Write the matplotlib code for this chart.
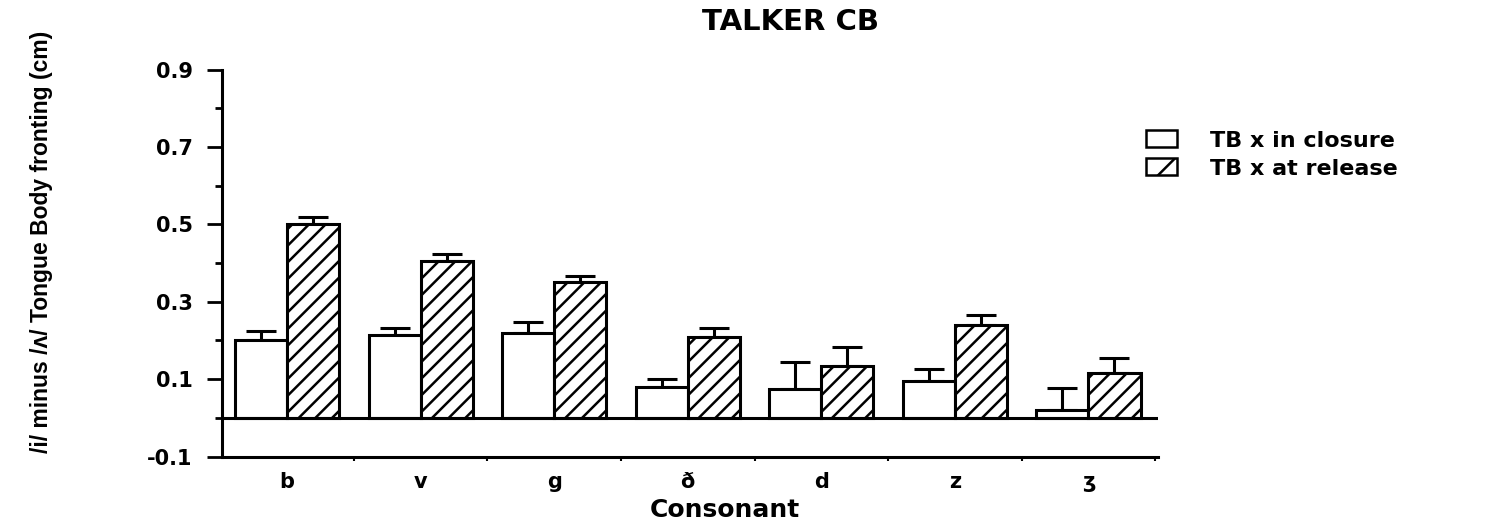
import matplotlib
matplotlib.use("Agg")
import matplotlib.pyplot as plt
import numpy as np
from matplotlib.patches import Patch
from matplotlib.ticker import FixedLocator, NullFormatter, FixedFormatter

# tongue body fronting, talker CB
consonants = ["b", "v", "g", "ð", "d", "z", "ʒ"]
closure = [0.20, 0.215, 0.22, 0.08, 0.075, 0.095, 0.02]
closure_err = [0.023, 0.016, 0.028, 0.019, 0.068, 0.031, 0.057]
release = [0.50, 0.405, 0.35, 0.21, 0.135, 0.24, 0.115]
release_err = [0.02, 0.017, 0.017, 0.022, 0.047, 0.026, 0.039]
series_names = ["TB x in closure", "TB x at release"]
yticks_major = [-0.1, 0.1, 0.3, 0.5, 0.7, 0.9]
yticks_minor = [0.0, 0.2, 0.4, 0.6, 0.8]

plt.rcParams["font.family"] = ["DejaVu Sans"]
plt.rcParams["font.weight"] = "bold"
plt.rcParams["hatch.linewidth"] = 1.8

fig = plt.figure(figsize=(14.95, 5.21), dpi=100)
ax = fig.add_axes([0.1485, 0.1238, 0.626, 0.7428])

x = np.arange(len(consonants))
w = 0.39
lw = 2.2

ax.bar(x - w / 2, closure, w, color="white", edgecolor="black", linewidth=lw, zorder=3)
ax.bar(x + w / 2, release, w, color="white", edgecolor="black", linewidth=lw,
       hatch="//", zorder=3)

zeros = np.zeros(len(x))
ax.errorbar(x - w / 2, closure, yerr=[zeros, closure_err], fmt="none", ecolor="black",
            elinewidth=lw, capsize=10.5, capthick=lw, zorder=2)
ax.errorbar(x + w / 2, release, yerr=[zeros, release_err], fmt="none", ecolor="black",
            elinewidth=lw, capsize=10.5, capthick=lw, zorder=2)

ax.axhline(0, color="black", linewidth=lw, zorder=4)

ax.set_xlim(-0.487, 6.52)
ax.set_ylim(-0.1, 0.9)

for side in ["top", "right"]:
    ax.spines[side].set_visible(False)
for side in ["left", "bottom"]:
    ax.spines[side].set_linewidth(lw)

ax.set_yticks(yticks_major)
ax.set_yticklabels([f"{v:.1f}" for v in yticks_major])
ax.set_yticks(yticks_minor, minor=True)
ax.tick_params(axis="y", which="major", direction="out", length=11, width=2,
               pad=10, labelsize=15)
ax.tick_params(axis="y", which="minor", direction="out", length=5, width=2)

# group boundaries get the ticks, group centres get the labels
ax.xaxis.set_major_locator(FixedLocator(list(x[:-1] + 0.5) + [6.5]))
ax.xaxis.set_major_formatter(NullFormatter())
ax.xaxis.set_minor_locator(FixedLocator(x))
ax.xaxis.set_minor_formatter(FixedFormatter(consonants))
ax.tick_params(axis="x", which="major", direction="out", length=3, width=1.5)
ax.tick_params(axis="x", which="minor", length=0, pad=11, labelsize=15)

for lab in ax.get_xticklabels(minor=True) + ax.get_yticklabels():
    lab.set_fontweight("bold")

fig.text(0.485, 0.021, "Consonant", fontsize=18, fontweight="bold",
         ha="center", va="center")
fig.text(0.028, 0.535, "/i/ minus /ʌ/ Tongue Body fronting (cm)",
         family=["Liberation Sans", "DejaVu Sans"], fontsize=16.5,
         fontweight="bold", rotation=90, ha="center", va="center")
fig.text(0.529, 0.958, "TALKER CB", fontsize=21, fontweight="bold",
         ha="center", va="center")

handles = [Patch(facecolor="white", edgecolor="black", linewidth=1.8),
           Patch(facecolor="white", edgecolor="black", linewidth=1.8, hatch="/")]
fig.legend(handles, series_names, loc="upper left", bbox_to_anchor=(0.753, 0.788),
           frameon=False, handlelength=1.4, handleheight=0.8,
           handletextpad=1.5, labelspacing=0.35,
           prop={"weight": "bold", "size": 16})

fig.savefig("out.png", dpi=100)
